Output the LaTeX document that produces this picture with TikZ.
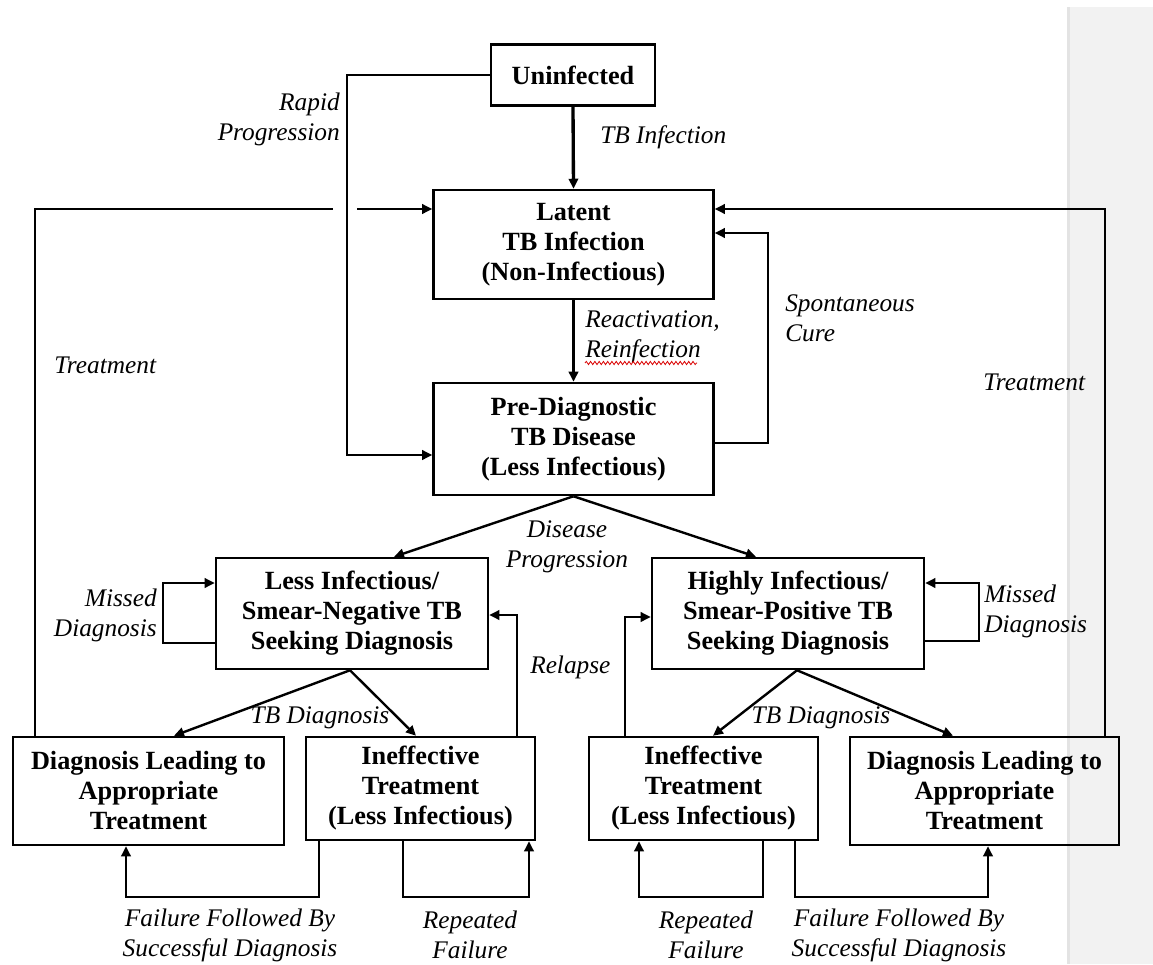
\documentclass[tikz,border=0pt]{standalone}
\usepackage{fontspec}
\setmainfont{Liberation Serif}
\usetikzlibrary{arrows.meta, decorations.pathmorphing}
\def\px{0.75pt}
\def\boxlinewidth{1.9pt}
\def\linkwidth{1.8pt}
\def\mainlinkwidth{2.5pt}
\def\bandfillcolor{black!5}
\def\banddrawcolor{black!11}
\def\spellcolor{red!85!black}
\tikzset{
	% compartments
	state/.style={
		draw,
		line width=\boxlinewidth,
		align=center,
		inner sep=0pt,
		font=\fontsize{19.7}{22.5}\selectfont\bfseries,
	},
	% transition labels
	flow_label/.style={
		inner sep=0pt,
		font=\fontsize{19}{22.5}\selectfont\itshape,
	},
	% transitions
	connection/.style={
		line width=\linkwidth,
		-{Triangle[length=7.5pt,width=7pt]},
	},
	main_connection/.style={
		connection,
		line width=\mainlinkwidth,
	},
	plain_line/.style={
		line width=\linkwidth,
	}
}
\begin{document}
\begin{tikzpicture}[x=\px, y=-\px]
	\useasboundingbox (0,0) rectangle (1153,964);
	% page edge
	\fill[\bandfillcolor] (1068,7) rectangle (1153,964);
	\fill[\banddrawcolor] (1067,7) rectangle (1070,964);
	%
	\node[state, minimum width=164*\px, minimum height=61*\px] (uninf) at (573,75) {Uninfected};
	\node[state, minimum width=280*\px, minimum height=109*\px] (latent) at (573.5,244.5) {Latent\\TB Infection\\(Non-Infectious)};
	\node[state, minimum width=280*\px, minimum height=112*\px] (prediag) at (573.5,439) {Pre-Diagnostic\\TB Disease\\(Less Infectious)};
	\node[state, minimum width=272*\px, minimum height=111*\px] (lessinf) at (352,613.5) {Less Infectious/\\Smear-Negative TB\\Seeking Diagnosis};
	\node[state, minimum width=272*\px, minimum height=111*\px] (highinf) at (788,613.5) {Highly Infectious/\\Smear-Positive TB\\Seeking Diagnosis};
	\node[state, minimum width=271*\px, minimum height=108*\px] (diagL) at (148.5,791) {Diagnosis Leading to\\Appropriate\\Treatment};
	\node[state, minimum width=229*\px, minimum height=103*\px] (ineffL) at (420.5,788.5) {Ineffective\\Treatment\\(Less Infectious)};
	\node[state, minimum width=229*\px, minimum height=103*\px] (ineffR) at (703.5,788.5) {Ineffective\\Treatment\\(Less Infectious)};
	\node[state, minimum width=269*\px, minimum height=108*\px] (diagR) at (984.5,791) {Diagnosis Leading to\\Appropriate\\Treatment};
	%
	% infection and progression
	\draw[main_connection] (uninf.south) -- (latent.north);
	\draw[main_connection] (latent.south) -- (prediag.north);
	\draw[connection] (uninf.west) -- (347,75) |- ([yshift=-16*\px]prediag.west);
	\draw[connection] ([yshift=-4*\px]prediag.east) -- (768,443) |- ([yshift=11.5*\px]latent.east);
	\draw[connection] (prediag.south) -- ([xshift=42*\px]lessinf.north);
	\draw[connection] (prediag.south) -- ([xshift=-32*\px]highinf.north);
	%
	% treatment back to latent
	\coordinate (hopL) at (333,209);
	\coordinate (hopR) at (357,209);
	\draw[plain_line] ([xshift=-113.5*\px]diagL.north) |- (hopL);
	\draw[connection] (hopR) -- ([yshift=35.5*\px]latent.west);
	\draw[connection] ([xshift=120.5*\px]diagR.north) |- ([yshift=35.5*\px]latent.east);
	%
	% missed diagnosis and relapse
	\draw[connection] ([yshift=-29.5*\px]lessinf.west) -- (163,643) |- ([yshift=30.5*\px]lessinf.west);
	\draw[connection] ([yshift=-27.5*\px]highinf.east) -- (979,641) |- ([yshift=30.5*\px]highinf.east);
	\draw[connection] ([xshift=96.5*\px]ineffL.north) |- ([yshift=-1.5*\px]lessinf.east);
	\draw[connection] ([xshift=-78.5*\px]ineffR.north) |- ([yshift=-3.5*\px]highinf.west);
	%
	% diagnosis
	\draw[connection] ([xshift=-2*\px]lessinf.south) -- ([xshift=25.5*\px]diagL.north);
	\draw[connection] ([xshift=-2*\px]lessinf.south) -- ([xshift=-4.5*\px]ineffL.north);
	\draw[connection] ([xshift=9*\px]highinf.south) -- ([xshift=9.5*\px]ineffR.north);
	\draw[connection] ([xshift=9*\px]highinf.south) -- ([xshift=-31.5*\px]diagR.north);
	%
	% failures
	\draw[connection] ([xshift=-101.5*\px]ineffL.south) -- (319,897) -| ([xshift=-22.5*\px]diagL.south);
	\draw[connection] ([xshift=-17.5*\px]ineffL.south) -- (403,897) -| ([xshift=108.5*\px]ineffL.south);
	\draw[connection] ([xshift=59.5*\px]ineffR.south) -- (763,897) -| ([xshift=-64.5*\px]ineffR.south);
	\draw[connection] ([xshift=91.5*\px]ineffR.south) -- (795,897) -| ([xshift=3.5*\px]diagR.south);
	%
	% labels
	\node[flow_label, anchor=west] (tbinf) at (600,137) {TB Infection};
	\node[flow_label, anchor=east, align=right] (rapid) at (340,119) {Rapid\\Progression};
	\node[flow_label, anchor=west, align=left] (react) at (585,337) {Reactivation,\\Reinfection};
	\draw[\spellcolor, line width=0.6pt, decorate, decoration={snake, amplitude=1.2pt, segment length=3.2pt}] (585,363) -- (697,363);
	\node[flow_label, anchor=west, align=left] (cure) at (785,318) {Spontaneous\\Cure};
	\node[flow_label, anchor=west] (treatL) at (54,365) {Treatment};
	\node[flow_label, anchor=west] (treatR) at (983,382) {Treatment};
	\node[flow_label, align=center] (progress) at (567,547) {Disease\\Progression};
	\node[flow_label, anchor=east, align=right] (missedL) at (157,615) {Missed\\Diagnosis};
	\node[flow_label, anchor=west, align=left] (missedR) at (984,611) {Missed\\Diagnosis};
	\node[flow_label, anchor=west] (relapse) at (530,667) {Relapse};
	\node[flow_label] (tbdiagL) at (320,718) {TB Diagnosis};
	\node[flow_label] (tbdiagR) at (821,718) {TB Diagnosis};
	\node[flow_label, align=center] (failL) at (230,935) {Failure Followed By\\Successful Diagnosis};
	\node[flow_label, align=center] (repL) at (470,935) {Repeated\\Failure};
	\node[flow_label, align=center] (repR) at (706,935) {Repeated\\Failure};
	\node[flow_label, align=center] (failR) at (899,935) {Failure Followed By\\Successful Diagnosis};
\end{tikzpicture}
\end{document}
